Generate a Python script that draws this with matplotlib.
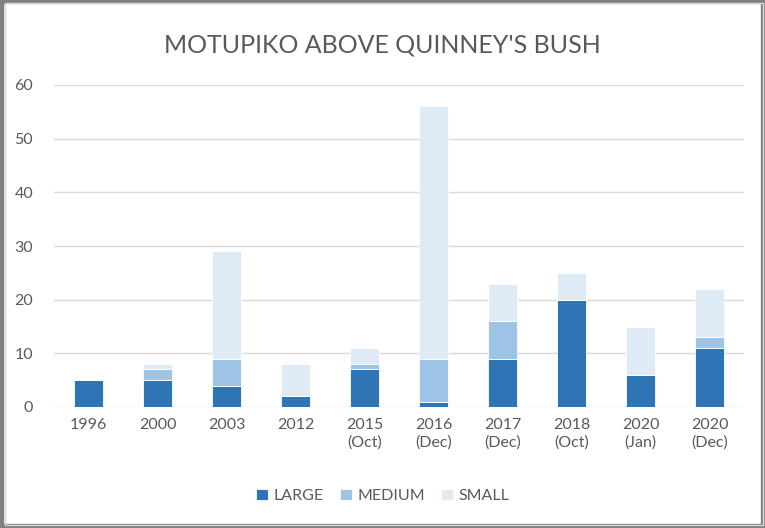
import matplotlib
matplotlib.use("Agg")
import matplotlib.pyplot as plt
from matplotlib.patches import Rectangle
import numpy as np

categories = ["1996", "2000", "2003", "2012", "2015\n(Oct)", "2016\n(Dec)",
              "2017\n(Dec)", "2018\n(Oct)", "2020\n(Jan)", "2020\n(Dec)"]
large = [5, 5, 4, 2, 7, 1, 9, 20, 6, 11]
medium = [0, 2, 5, 0, 1, 8, 7, 0, 0, 2]
small = [0, 1, 20, 6, 3, 47, 7, 5, 9, 9]
series_names = ["LARGE", "MEDIUM", "SMALL"]
colors = ["#2E75B6", "#9DC3E6", "#DEEBF7"]

plt.rcParams['font.family'] = ['Lato', 'DejaVu Sans']
txt = "#595959"

fig = plt.figure(figsize=(7.65, 5.28), dpi=100)
ax = fig.add_axes([54/765, 1-407/528, 690/765, (407-85)/528])

x = np.arange(len(categories))
w = 0.41
bottom = np.zeros(len(categories))
for vals, name, c in zip([large, medium, small], series_names, colors):
    vals = np.array(vals, dtype=float)
    ax.bar(x, vals, w, bottom=bottom, color=c, label=name,
           edgecolor="white", linewidth=0.6, zorder=3)
    bottom += vals

ax.set_xlim(-0.5, len(categories) - 0.5)
ax.set_ylim(0, 60)
ax.set_yticks(range(0, 61, 10))
ax.yaxis.grid(True, color="#D9D9D9", linewidth=1.0, zorder=0)
for s in ax.spines.values():
    s.set_visible(False)
ax.tick_params(axis="both", length=0, labelsize=11.5, colors=txt)
ax.tick_params(axis="y", pad=15)
ax.tick_params(axis="x", pad=8)
ax.set_xticks(x)
ax.set_xticklabels(categories, linespacing=1.3)

fig.text(0.5, 1-45/528, "MOTUPIKO ABOVE QUINNEY'S BUSH", ha="center", va="center",
         fontsize=18, color=txt)

leg = fig.legend(loc="center", bbox_to_anchor=(0.5, 1-496/528), ncol=3, frameon=False,
                 fontsize=11.5, handlelength=0.75, handleheight=0.75, columnspacing=1.0,
                 handletextpad=0.35)
for t in leg.get_texts():
    t.set_color(txt)

# border
fig.add_artist(Rectangle((0, 0), 1, 1, transform=fig.transFigure, fill=False,
                         edgecolor="#808080", linewidth=6, zorder=10))
fig.add_artist(Rectangle((5/765, 3/528), 1-7/765, 1-6/528, transform=fig.transFigure,
                         fill=False, edgecolor="#D9D9D9", linewidth=1, zorder=10))

fig.savefig("out.png", dpi=100)
